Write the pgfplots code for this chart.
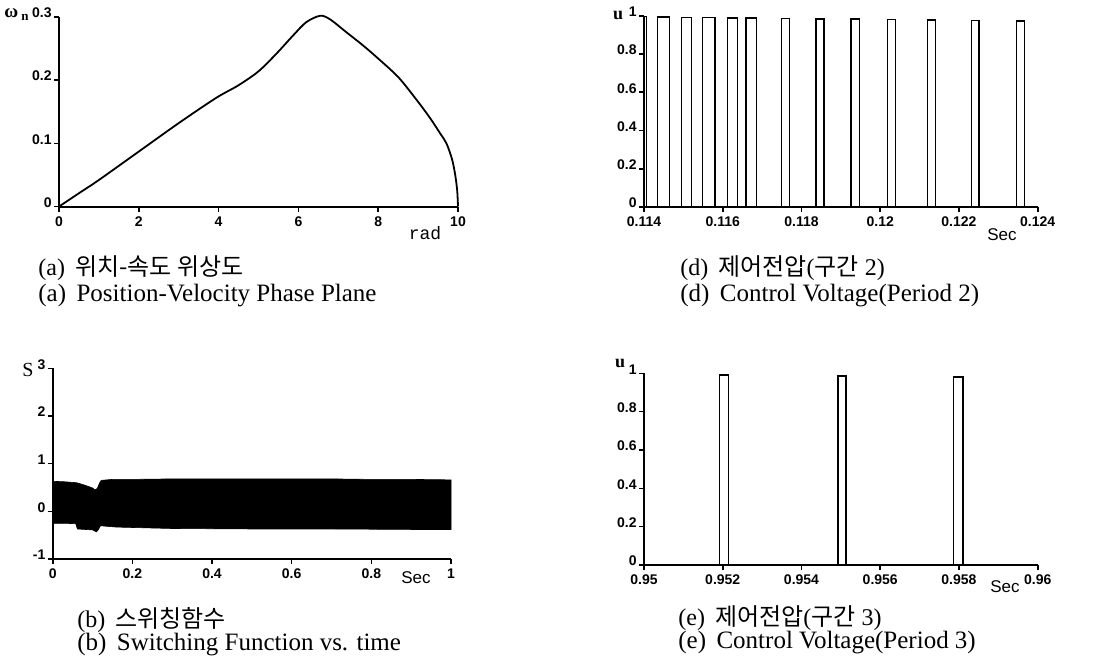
\documentclass[border=0pt]{standalone}
\usepackage{fontspec}
\setmainfont{Liberation Serif}
\newfontfamily\tickfont{Liberation Sans}
\newfontfamily\monofont{Liberation Mono}
\newfontfamily\kr{Noto Sans CJK KR}
\usepackage{pgfplots}
\pgfplotsset{compat=1.18}
\pgfplotsset{
  scan/.style={
    scale only axis,
    anchor=south west,
    axis x line*=bottom,
    axis y line*=left,
    axis line style={line width=1pt,-},
    tick align=outside,
    major tick length=2.5pt,
    tick style={line width=0.8pt,black},
    scaled ticks=false,
    ticklabel style={font=\tickfont\bfseries\fontsize{7}{7}\selectfont},
    xticklabel style={yshift=1pt},
    yticklabel style={inner sep=1pt, yshift=2pt},
    clip=false,
  }
}
\begin{document}
\begin{tikzpicture}
\path[use as bounding box] (0,0) rectangle (553pt,-332pt);

% (a) phase plane
\begin{axis}[scan,
  at={(29.5pt,-103.25pt)}, width=199.5pt, height=94.75pt,
  xmin=0, xmax=10, ymin=0, ymax=0.3,
  xtick={0,2,4,6,8,10}, xticklabels={0,2,4,6,8,10},
  ytick={0,0.1,0.2,0.3}, yticklabels={0,0.1,0.2,0.3}]
\addplot[black, line width=0.9pt, smooth] coordinates {
(0,0) (0.5,0.021) (1,0.042) (2,0.087) (3,0.132) (3.94,0.172) (4.5,0.192)
(5,0.214) (5.45,0.242) (5.87,0.271) (6.2,0.292) (6.55,0.302) (6.8,0.296)
(7.2,0.276) (7.6,0.256) (7.95,0.237) (8.5,0.205) (8.96,0.169) (9.3,0.14)
(9.55,0.116) (9.71,0.1) (9.85,0.075) (9.93,0.05) (9.98,0.025) (10,0)};
\end{axis}
\node[anchor=west, inner sep=0] at (2pt,-7.5pt) {\bfseries\fontsize{9.5}{9.5}\selectfont ω\,\raisebox{-1.5pt}{\fontsize{6.5}{6.5}\selectfont n}};
\node[inner sep=0] at (212.5pt,-116.5pt) {\monofont\fontsize{9}{9}\selectfont rad};
\node[anchor=west, inner sep=0] at (19pt,-134pt) {\fontsize{12}{12}\selectfont (a)\, {\kr\fontsize{12}{12}\selectfont 위치-속도 위상도}};
\node[anchor=west, inner sep=0] at (19pt,-148pt) {\fontsize{12.5}{12.5}\selectfont (a)\, Position-Velocity Phase Plane};

% (d) control voltage period 2
\begin{axis}[scan,
  at={(322pt,-103.5pt)}, width=196.85pt, height=95.65pt,
  xmin=0.114, xmax=0.124, ymin=0, ymax=1,
  xtick={0.114,0.116,0.118,0.12,0.122,0.124},
  xticklabels={0.114,0.116,0.118,0.12,0.122,0.124},
  ytick={0,0.2,0.4,0.6,0.8,1}, yticklabels={0,0.2,0.4,0.6,0.8,1}]
\addplot[black, line width=0.8pt] coordinates {
(0.114,0) (0.114,0.995) (0.11406,0.995) (0.11406,0)
(0.114339,0) (0.114339,0.992) (0.114643,0.992) (0.114643,0)
(0.114948,0) (0.114948,0.99) (0.115211,0.99) (0.115211,0)
(0.115490,0) (0.115490,0.99) (0.115803,0.99) (0.115803,0)
(0.116117,0) (0.116117,0.988) (0.116371,0.988) (0.116371,0)
(0.116591,0) (0.116591,0.987) (0.116862,0.987) (0.116862,0)
(0.117497,0) (0.117497,0.985) (0.117692,0.985) (0.117692,0)
(0.118369,0) (0.118369,0.983) (0.118564,0.983) (0.118564,0)
(0.119258,0) (0.119258,0.982) (0.119470,0.982) (0.119470,0)
(0.120189,0) (0.120189,0.98) (0.120384,0.98) (0.120384,0)
(0.121197,0) (0.121197,0.977) (0.121400,0.977) (0.121400,0)
(0.122315,0) (0.122315,0.975) (0.122509,0.975) (0.122509,0)
(0.123466,0) (0.123466,0.972) (0.123661,0.972) (0.123661,0)
(0.124,0)};
\end{axis}
\node[inner sep=0] at (309pt,-7.5pt) {\fontsize{9}{9}\selectfont\bfseries u};
\node[inner sep=0] at (501pt,-117.5pt) {\tickfont\fontsize{8.5}{8.5}\selectfont Sec};
\node[anchor=west, inner sep=0] at (340pt,-134pt) {\fontsize{12}{12}\selectfont (d)\, {\kr\fontsize{12}{12}\selectfont 제어전압}({\kr\fontsize{12}{12}\selectfont 구간} 2)};
\node[anchor=west, inner sep=0] at (340pt,-148pt) {\fontsize{12.5}{12.5}\selectfont (d)\, Control Voltage(Period 2)};

% (b) switching function
\begin{axis}[scan,
  at={(26.35pt,-279.5pt)}, width=199.15pt, height=95.35pt,
  xmin=0, xmax=1, ymin=-1, ymax=3,
  xtick={0,0.2,0.4,0.6,0.8,1}, xticklabels={0,0.2,0.4,0.6,0.8,1},
  ytick={-1,0,1,2,3}, yticklabels={-1,0,1,2,3}]
\addplot[fill=black, draw=black, line width=0.3pt] coordinates {
(0,0.63) (0.03,0.62) (0.06,0.6) (0.08,0.55) (0.1,0.49) (0.106,0.45)
(0.112,0.48) (0.118,0.6) (0.122,0.65) (0.15,0.67) (0.2,0.67) (0.3,0.68)
(0.4,0.68) (0.5,0.68) (0.6,0.68) (0.7,0.68) (0.8,0.67) (0.9,0.67) (1.0,0.66)
(1.0,-0.38) (0.9,-0.38) (0.7,-0.37) (0.5,-0.37) (0.3,-0.36) (0.16,-0.33)
(0.13,-0.31) (0.12,-0.3) (0.115,-0.38) (0.11,-0.43) (0.1,-0.39)
(0.062,-0.37) (0.058,-0.26) (0.03,-0.25) (0,-0.25)} -- cycle;
\end{axis}
\node[inner sep=0] at (14pt,-185pt) {\fontsize{10}{10}\selectfont S};
\node[inner sep=0] at (208pt,-289pt) {\tickfont\fontsize{8.5}{8.5}\selectfont Sec};
\node[anchor=west, inner sep=0] at (38.5pt,-310pt) {\fontsize{12}{12}\selectfont (b)\, {\kr\fontsize{12}{12}\selectfont 스위칭함수}};
\node[anchor=west, inner sep=0] at (38.5pt,-322.5pt) {\fontsize{12.5}{12.5}\selectfont (b)\, Switching Function vs. time};

% (e) control voltage period 3
\begin{axis}[scan,
  at={(322pt,-282.5pt)}, width=196.85pt, height=95.85pt,
  xmin=0.95, xmax=0.96, ymin=0, ymax=1,
  xtick={0.95,0.952,0.954,0.956,0.958,0.96},
  xticklabels={0.95,0.952,0.954,0.956,0.958,0.96},
  ytick={0,0.2,0.4,0.6,0.8,1}, yticklabels={0,0.2,0.4,0.6,0.8,1}]
\addplot[black, line width=0.8pt] coordinates {
(0.95,0) (0.951914,0) (0.951914,0.99) (0.952142,0.99) (0.952142,0)
(0.954920,0) (0.954920,0.985) (0.955131,0.985) (0.955131,0)
(0.957858,0) (0.957858,0.98) (0.958095,0.98) (0.958095,0) (0.96,0)};
\end{axis}
\node[inner sep=0] at (310pt,-181.5pt) {\fontsize{9}{9}\selectfont\bfseries u};
\node[inner sep=0] at (502.5pt,-293.5pt) {\tickfont\fontsize{8.5}{8.5}\selectfont Sec};
\node[anchor=west, inner sep=0] at (339pt,-309pt) {\fontsize{12}{12}\selectfont (e)\, {\kr\fontsize{12}{12}\selectfont 제어전압}({\kr\fontsize{12}{12}\selectfont 구간} 3)};
\node[anchor=west, inner sep=0] at (339pt,-321.5pt) {\fontsize{12.5}{12.5}\selectfont (e)\, Control Voltage(Period 3)};
\end{tikzpicture}
\end{document}
